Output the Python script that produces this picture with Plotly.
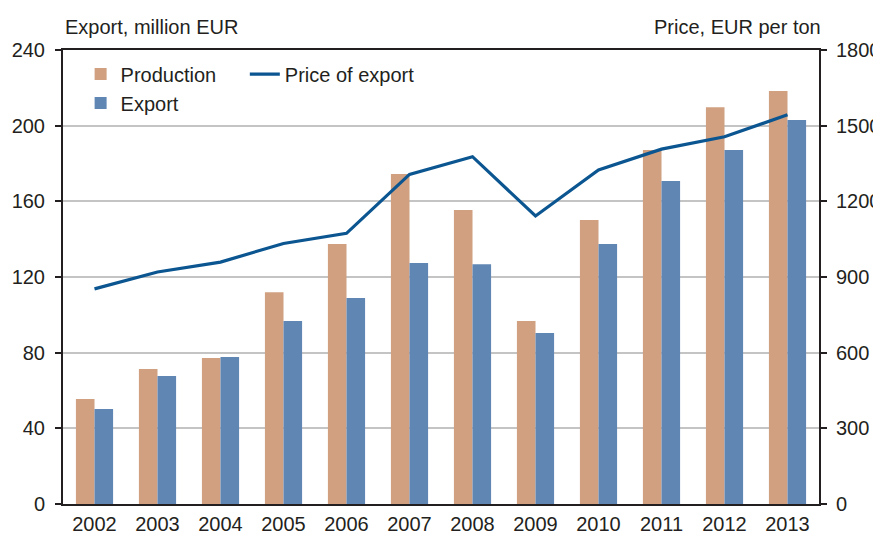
import plotly.graph_objects as go

years = ["2002", "2003", "2004", "2005", "2006", "2007", "2008", "2009", "2010", "2011", "2012", "2013"]
production = [55.5, 71.4, 77.2, 112, 137.4, 174.4, 155.4, 96.7, 150.1, 187.1, 209.8, 218.3]
export = [50.2, 67.7, 77.7, 96.7, 108.9, 127.4, 126.8, 90.4, 137.4, 170.7, 187.1, 203]
price = [853, 920, 959, 1033, 1073, 1307, 1377, 1142, 1324, 1407, 1456, 1543]

FONT = "Liberation Sans, Arial, sans-serif"
TXT = "#231f20"
FS = 20

fig = go.Figure()
fig.add_trace(go.Bar(x=years, y=production, name="Production",
                     marker=dict(color="#d0a080", line=dict(width=0)), legend="legend"))
fig.add_trace(go.Bar(x=years, y=export, name="Export",
                     marker=dict(color="#6086b4", line=dict(width=0)), legend="legend"))
fig.add_trace(go.Scatter(x=years, y=price, name="Price of export", yaxis="y2",
                         mode="lines", line=dict(color="#0b5591", width=3.2),
                         legend="legend2"))

# the page body adds an 8px offset, so the figure is sized to compensate
fig.update_layout(
    width=873, height=530,
    margin=dict(l=55, r=62, t=42, b=34),
    paper_bgcolor="white", plot_bgcolor="white",
    font=dict(family=FONT, size=FS, color=TXT),
    barmode="group", bargap=0.41, bargroupgap=0,
    xaxis=dict(showline=True, linecolor="#231f20", linewidth=2, mirror=True,
               ticks="", showgrid=False, tickfont=dict(size=FS), automargin=False,
               ticklabelstandoff=1),
    yaxis=dict(range=[0, 240], dtick=40, showline=True, linecolor="#231f20", linewidth=2,
               ticks="outside", ticklen=6, tickwidth=2, tickcolor="#231f20",
               showgrid=True, gridcolor="#c4c4c4", gridwidth=1.5, zeroline=False,
               tickfont=dict(size=FS), automargin=False, ticklabelstandoff=6),
    yaxis2=dict(range=[0, 1800], dtick=300, overlaying="y", side="right",
                showline=True, linecolor="#231f20", linewidth=2,
                ticks="outside", ticklen=6, tickwidth=2, tickcolor="#231f20",
                showgrid=False, zeroline=False, tickfont=dict(size=FS), automargin=False,
                ticklabelstandoff=5),
    legend=dict(x=0.0233, y=0.99, xanchor="left", yanchor="top", bgcolor="rgba(0,0,0,0)",
                font=dict(size=FS), tracegroupgap=0, itemwidth=30),
    legend2=dict(x=0.2405, y=0.99, xanchor="left", yanchor="top", bgcolor="rgba(0,0,0,0)",
                 font=dict(size=FS), itemwidth=30),
    annotations=[
        dict(text="Export, million EUR", xref="paper", yref="paper", x=0, y=1.0,
             xanchor="left", yanchor="bottom", yshift=10, showarrow=False, font=dict(size=FS)),
        dict(text="Price, EUR per ton", xref="paper", yref="paper", x=1.005, y=1.0,
             xanchor="right", yanchor="bottom", yshift=10, showarrow=False, font=dict(size=FS)),
    ],
)

fig.write_html("out.html")
